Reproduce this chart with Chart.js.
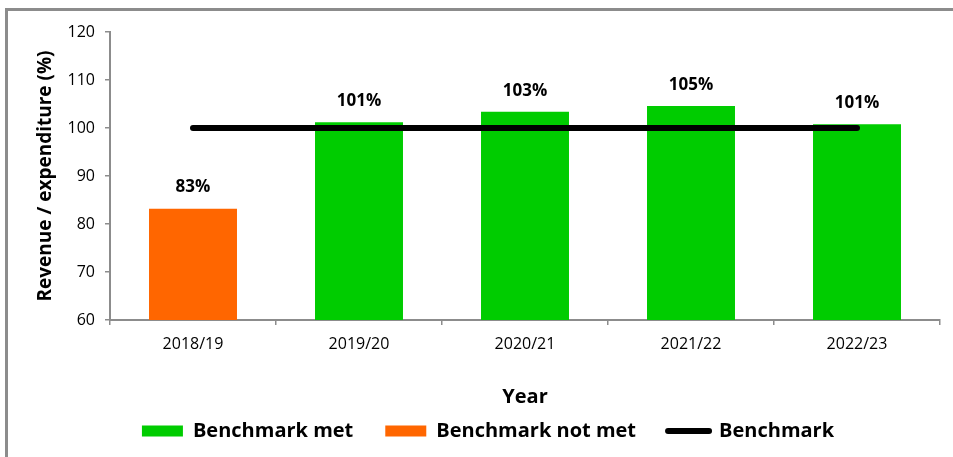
<!DOCTYPE html>
<html>
<head>
<meta charset="utf-8">
<title>Revenue / expenditure</title>
<script src="https://cdn.jsdelivr.net/npm/chart.js@4.4.0/dist/chart.umd.min.js"></script>
<style>
  html, body { margin: 0; padding: 0; background: #fff; }
  #frame {
    position: absolute; left: 5px; top: 8px; width: 1000px; height: 500px;
    border-left: 3px solid #8c8c8c; border-top: 3px solid #8c8c8c;
  }
  #chart { position: absolute; left: 0; top: 0; }
</style>
</head>
<body>
<div id="frame"></div>
<canvas id="chart" width="953" height="457"></canvas>
<script>
const years = ['2018/19', '2019/20', '2020/21', '2021/22', '2022/23'];
const metValues = [null, 101.2, 103.4, 104.6, 100.8];
const notMetValues = [83.2, null, null, null, null];
const benchmarkValues = [100, 100, 100, 100, 100];
const yTicks = [60, 70, 80, 90, 100, 110, 120];

const GREEN = '#00cc00';
const ORANGE = '#ff6600';
const AXIS = '#8c8c8c';

Chart.defaults.font.family = "'Open Sans', sans-serif";
Chart.defaults.color = '#000';

// percentage labels over each bar
const barLabels = {
    id: 'barLabels',
    afterDatasetsDraw(chart) {
        const ctx = chart.ctx;
        ctx.save();
        ctx.font = "bold 17px 'Open Sans', sans-serif";
        ctx.fillStyle = '#000';
        ctx.textAlign = 'center';
        ctx.textBaseline = 'middle';
        chart.data.datasets.forEach((ds, i) => {
            if (ds.type === 'line') return;
            chart.getDatasetMeta(i).data.forEach((bar, j) => {
                const v = ds.data[j];
                if (v == null) return;
                ctx.fillText(Math.round(v) + '%', bar.x, bar.y - 21);
            });
        });
        ctx.restore();
    }
};

new Chart(document.getElementById('chart'), {
    type: 'bar',
    data: {
        labels: years,
        datasets: [
            {
                label: 'Benchmark met',
                data: metValues,
                backgroundColor: GREEN,
                borderWidth: 0,
                grouped: false,
                barPercentage: 0.53,
                categoryPercentage: 1
            },
            {
                label: 'Benchmark not met',
                data: notMetValues,
                backgroundColor: ORANGE,
                borderWidth: 0,
                grouped: false,
                barPercentage: 0.53,
                categoryPercentage: 1
            },
            {
                type: 'line',
                label: 'Benchmark',
                data: benchmarkValues,
                borderColor: '#000',
                backgroundColor: '#000',
                borderWidth: 6,
                borderCapStyle: 'round',
                pointRadius: 0,
                order: -1
            }
        ]
    },
    options: {
        responsive: false,
        animation: false,
        layout: { padding: { left: 36, right: 13, top: 32, bottom: 6 } },
        scales: {
            x: {
                grid: {
                    offset: true, drawOnChartArea: false, drawTicks: true,
                    tickLength: 5, color: AXIS, lineWidth: 1.5
                },
                border: { color: AXIS, width: 2 },
                ticks: { font: { size: 16 }, padding: 10, color: '#000' },
                title: {
                    display: true, text: 'Year',
                    font: { size: 20, weight: 'bold' },
                    padding: { top: 0, bottom: -20.5 }
                },
                afterFit: s => { s.height = 69; }
            },
            y: {
                min: yTicks[0],
                max: yTicks[yTicks.length - 1],
                grid: {
                    drawOnChartArea: false, drawTicks: true,
                    tickLength: 5, color: AXIS, lineWidth: 1.5
                },
                border: { color: AXIS, width: 2 },
                ticks: { stepSize: yTicks[1] - yTicks[0], font: { size: 16 }, padding: 10, color: '#000' },
                title: {
                    display: true, text: 'Revenue / expenditure (%)',
                    font: { size: 19, weight: 'bold', lineHeight: 1 },
                    padding: 0
                },
                afterFit: s => { s.width = 74; }
            }
        },
        plugins: {
            tooltip: { enabled: false },
            legend: {
                position: 'bottom',
                labels: {
                    usePointStyle: true,
                    pointStyleWidth: 41,
                    boxHeight: 11,
                    padding: 32,
                    color: '#000',
                    font: { size: 20, weight: 'bold' },
                    generateLabels(chart) {
                        const items = Chart.defaults.plugins.legend.labels.generateLabels(chart);
                        items.forEach(item => {
                            const ds = chart.data.datasets[item.datasetIndex];
                            if (ds.type === 'line') {
                                item.pointStyle = 'line';
                                item.lineWidth = 6;
                                item.lineCap = 'round';
                                item.strokeStyle = '#000';
                            } else {
                                item.pointStyle = 'rect';
                                item.lineWidth = 0;
                            }
                        });
                        return items.sort((a, b) => a.datasetIndex - b.datasetIndex);
                    }
                }
            }
        }
    },
    plugins: [barLabels]
});
</script>
</body>
</html>
